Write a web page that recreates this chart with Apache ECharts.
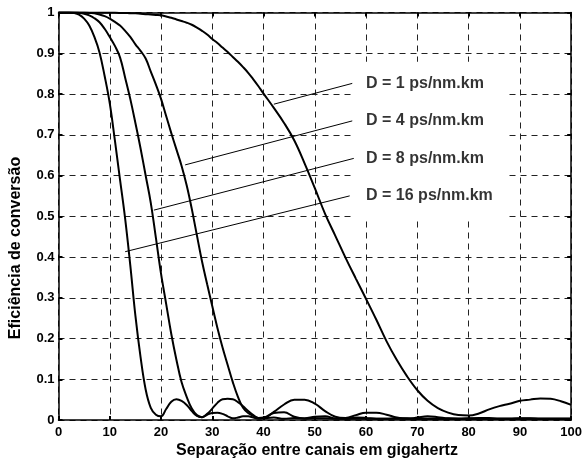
<!DOCTYPE html>
<html>
<head>
<meta charset="utf-8">
<script src="https://cdn.jsdelivr.net/npm/echarts@6/dist/echarts.min.js"></script>
<style>
html,body{margin:0;padding:0;background:#fff;}
#chart{width:585px;height:464px;}
</style>
</head>
<body>
<div id="chart"></div>
<script>
// ---- data ----
const xTickLabels = ['0','10','20','30','40','50','60','70','80','90','100'];
const yTickLabels = ['0','0.1','0.2','0.3','0.4','0.5','0.6','0.7','0.8','0.9','1'];

// channel separation (GHz)
const separation = [
  0,1,2,3,4,5,6,7,8,9,10,11,12,13,14,15,16,17,18,19,20,21,22,23,24,25,26,27,28,29,30,31,32,33,34,35,36,37,38,39,40,
  42,44,46,48,50,52,54,56,58,60,62,64,66,68,70,72,74,76,78,80,82,84,86,88,90,92,94,96,98,100
];

// conversion efficiency, D = 1 ps/nm.km
const effD1 = [
  1,1,1,1,1,1,1,1,1,1,1,1,0.999,0.999,0.998,0.998,0.997,0.996,0.995,0.994,0.993,0.99,0.987,0.983,0.979,0.975,0.970,0.963,0.955,0.946,0.935,0.925,0.914,0.903,0.891,0.879,0.866,0.852,0.836,0.819,0.801,
  0.766,0.729,0.686,0.63,0.569,0.506,0.452,0.398,0.347,0.297,0.246,0.193,0.147,0.107,0.073,0.047,0.029,0.018,0.012,0.011,0.016,0.026,0.034,0.04,0.047,0.05,0.053,0.052,0.046,0.037
];

// conversion efficiency, D = 4 ps/nm.km
const effD4 = [
  1,1,1,1,1,1,0.999,0.998,0.995,0.991,0.985,0.977,0.968,0.955,0.94,0.922,0.906,0.887,0.855,0.823,0.788,0.746,0.704,0.664,0.624,0.576,0.518,0.453,0.389,0.333,0.279,0.226,0.178,0.135,0.093,0.057,0.03,0.017,0.01,0.005,0.005,
  0.02,0.038,0.05,0.05,0.04,0.022,0.008,0.005,0.012,0.018,0.018,0.013,0.006,0.003,0.006,0.009,0.007,0.004,0.003,0.004,0.005,0.005,0.003,0.003,0.004,0.004,0.003,0.003,0.003,0.003
];

// conversion efficiency, D = 8 ps/nm.km
const effD8 = [
  1,1,1,1,0.999,0.997,0.993,0.986,0.976,0.96,0.94,0.918,0.89,0.84,0.788,0.729,0.667,0.6,0.533,0.447,0.359,0.285,0.211,0.148,0.093,0.057,0.028,0.012,0.007,0.015,0.028,0.042,0.051,0.052,0.051,0.044,0.034,0.022,0.012,0.005,0.006,
  0.017,0.019,0.008,0.004,0.008,0.009,0.004,0.003,0.006,0.005,0.003,0.003,0.004,0.004,0.003,0.003,0.003,0.003,0.003,0.003,0.003,0.003,0.003,0.003,0.003,0.003,0.003,0.003,0.003,0.003
];

// conversion efficiency, D = 16 ps/nm.km
const effD16 = [
  1,1,1,0.999,0.995,0.985,0.968,0.94,0.902,0.844,0.777,0.686,0.59,0.494,0.38,0.256,0.155,0.075,0.03,0.013,0.009,0.027,0.045,0.051,0.047,0.037,0.022,0.01,0.007,0.013,0.017,0.018,0.015,0.009,0.004,0.006,0.009,0.009,0.006,0.003,0.004,
  0.006,0.003,0.005,0.003,0.004,0.004,0.003,0.003,0.003,0.003,0.003,0.003,0.003,0.003,0.003,0.003,0.003,0.003,0.003,0.003,0.003,0.003,0.003,0.003,0.003,0.003,0.003,0.003,0.003,0.003
];

// annotation pointers (data units) and labels
const annLabels = ['D = 1 ps/nm.km', 'D = 4 ps/nm.km', 'D = 8 ps/nm.km', 'D = 16 ps/nm.km'];
const annStartX = [42.0, 24.7, 18.6, 13.0];
const annStartY = [0.775, 0.626, 0.515, 0.413];
const annEndX = [57.3, 57.3, 57.6, 56.8];
const annEndY = [0.826, 0.734, 0.642, 0.550];
const annTextX = [59.9, 59.9, 59.9, 59.9];

// ---- chart ----
const FONT = '"Liberation Sans", Arial, Helvetica, sans-serif';
const zip = (xs, ys) => xs.map((x, i) => [x, ys[i]]);

function curve(name, ys, extra) {
  return Object.assign({
    name, type: 'line', data: zip(separation, ys), showSymbol: false, symbol: 'none',
    smooth: 0.4,
    lineStyle: { color: '#000', width: 2 }, itemStyle: { color: '#000' }, z: 5, silent: true, animation: false
  }, extra || {});
}

const series = [
  curve('D1', effD1, {
    markArea: {
      silent: true,
      itemStyle: { color: '#fff', opacity: 1 },
      data: [[{ coord: [57.5, 0.879] }, { coord: [87.4, 0.496] }]]
    }
  }),
  curve('D4', effD4),
  curve('D8', effD8),
  curve('D16', effD16)
];

annLabels.forEach((lab, i) => {
  series.push({
    type: 'line', data: [[annStartX[i], annStartY[i]], [annEndX[i], annEndY[i]]],
    symbol: 'none', lineStyle: { color: '#000', width: 1 }, z: 6, silent: true, animation: false
  });
  series.push({
    type: 'scatter', data: [[annTextX[i], annEndY[i]]], symbolSize: 1,
    itemStyle: { color: 'rgba(0,0,0,0)' }, z: 7, silent: true, animation: false,
    label: {
      show: true, position: 'right', distance: 0, formatter: lab,
      color: '#000', fontFamily: FONT, fontWeight: 'bold', fontSize: 16
    }
  });
});

const gridDash = { color: '#222', width: 1, type: [6, 5] };
const tickStyle = { show: true, inside: true, length: 4, lineStyle: { color: '#000', width: 2 } };
const axisLineStyle = { show: true, onZero: false, lineStyle: { color: '#000', width: 1.5 } };

const option = {
  backgroundColor: '#fff',
  animation: false,
  grid: { left: 58.5, right: 7, top: 12.5, bottom: 44, containLabel: false },
  xAxis: [
    {
      type: 'value', min: 0, max: 100, interval: 10, position: 'bottom',
      axisLine: axisLineStyle, axisTick: tickStyle,
      axisLabel: {
        show: true, margin: 6, color: '#000', fontFamily: FONT, fontWeight: 'bold', fontSize: 13,
        showMaxLabel: true, showMinLabel: true,
        formatter: v => xTickLabels[Math.round(v / 10)]
      },
      splitLine: { show: true, lineStyle: gridDash }
    },
    {
      type: 'value', min: 0, max: 100, interval: 10, position: 'top',
      axisLine: axisLineStyle, axisTick: tickStyle, axisLabel: { show: false }, splitLine: { show: false }
    }
  ],
  yAxis: [
    {
      type: 'value', min: 0, max: 1, interval: 0.1, position: 'left',
      axisLine: axisLineStyle, axisTick: tickStyle,
      axisLabel: {
        show: true, margin: 4, color: '#000', fontFamily: FONT, fontWeight: 'bold', fontSize: 13,
        formatter: v => yTickLabels[Math.round(v * 10)]
      },
      splitLine: { show: true, lineStyle: gridDash }
    },
    {
      type: 'value', min: 0, max: 1, interval: 0.1, position: 'right',
      axisLine: axisLineStyle, axisTick: tickStyle, axisLabel: { show: false }, splitLine: { show: false }
    }
  ],
  graphic: [
    {
      type: 'text', x: 317, y: 451,
      style: { text: 'Separação entre canais em gigahertz', fill: '#000', font: 'bold 16px ' + FONT, align: 'center', verticalAlign: 'middle' }
    },
    {
      type: 'text', rotation: Math.PI / 2, x: 16, y: 248,
      style: { text: 'Eficiência de conversão', fill: '#000', font: 'bold 16px ' + FONT, align: 'center', verticalAlign: 'middle' }
    }
  ],
  series
};

const chart = echarts.init(document.getElementById('chart'), null, { renderer: 'canvas' });
chart.setOption(option);
</script>
</body>
</html>
